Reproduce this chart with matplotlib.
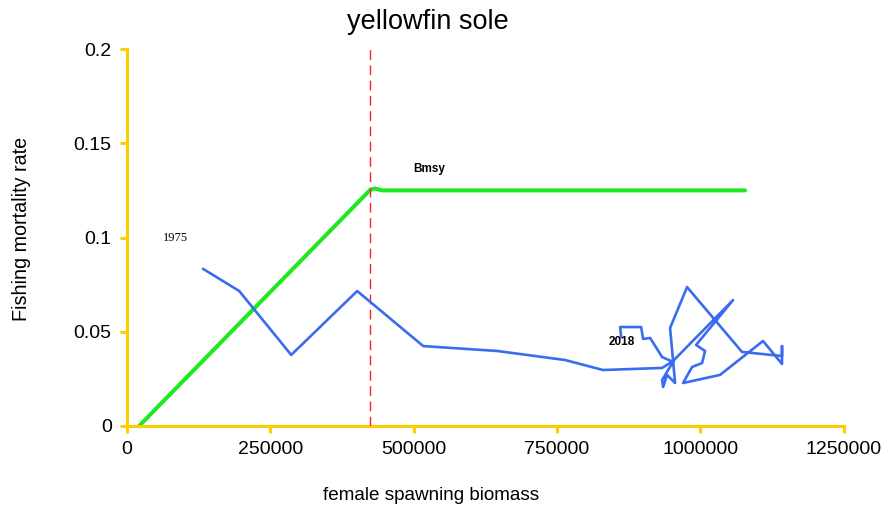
import matplotlib
matplotlib.use("Agg")
import matplotlib.pyplot as plt
from matplotlib.ticker import FixedLocator, FuncFormatter

plt.rcParams['font.family'] = ['Liberation Sans', 'DejaVu Sans']

# Data
ssb = [133000, 195800, 286400, 401500, 516600, 645600, 764100, 830400, 933300, 952400,
       1057000, 992500, 1008200, 1003000, 985500, 969800, 1034300, 1109300, 1142400, 1142400,
       1142400, 1072600, 976800, 947200, 955900, 942000, 935000, 933300, 952400, 933300,
       912400, 900200, 896700, 860100, 861800]
fmort = [0.0833, 0.0716, 0.0377, 0.0716, 0.0424, 0.0398, 0.0350, 0.0297, 0.0308, 0.0345,
         0.0668, 0.0430, 0.0398, 0.0334, 0.0313, 0.0228, 0.0271, 0.0451, 0.0329, 0.0424,
         0.0371, 0.0393, 0.0737, 0.0520, 0.0228, 0.0271, 0.0207, 0.0244, 0.0340, 0.0366,
         0.0467, 0.0462, 0.0525, 0.0525, 0.0472]
hcr_x = [21000, 424000, 432000, 445000, 1078000]
hcr_y = [0.0, 0.1252, 0.1260, 0.1250, 0.1250]
bmsy = 424000
x_ticks = [0, 250000, 500000, 750000, 1000000, 1250000]
y_ticks = [0, 0.05, 0.1, 0.15, 0.2]
y_tick_labels = ['0', '0.05', '0.1', '0.15', '0.2']

fig = plt.figure(figsize=(8.92, 5.12), dpi=100)
ax = fig.add_axes([127/892, 1-426/512, (843.7-127)/892, (426-49)/512])

ax.plot(hcr_x, hcr_y, color='#1ee81e', lw=2.9, solid_capstyle='round', zorder=2)
ax.plot([bmsy, bmsy], [0, 0.2], color='#ff2020', lw=1.0, dashes=(7, 4), zorder=3)
ax.plot(ssb, fmort, color='#3a6cf0', lw=1.9, zorder=4)

ax.text(84200, 0.0997, '1975', fontsize=9, family='Liberation Serif', ha='center', va='center')
ax.text(863500, 0.0446, '2018', fontsize=8.5, fontweight='bold', ha='center', va='center', zorder=5)
ax.text(527000, 0.1363, 'Bmsy', fontsize=8.5, fontweight='bold', ha='center', va='center')

ax.set_xlim(0, 1250000)
ax.set_ylim(0, 0.2)
ax.xaxis.set_major_locator(FixedLocator(x_ticks))
ax.xaxis.set_major_formatter(FuncFormatter(lambda v, p: f"{int(round(v))}"))
ax.set_yticks(y_ticks)
ax.set_yticklabels(y_tick_labels)

for s in ['top', 'right']:
    ax.spines[s].set_visible(False)
for s in ['left', 'bottom']:
    ax.spines[s].set_color('#ffcc00')
    ax.spines[s].set_linewidth(2.2)
    ax.spines[s].set_capstyle('projecting')
ax.tick_params(axis='both', colors='#ffcc00', width=2.2, length=5, labelcolor='black', labelsize=14)
ax.tick_params(axis='y', pad=6)
ax.tick_params(axis='x', pad=6)

fig.text(428/892, 1-22/512, 'yellowfin sole', fontsize=19.5, ha='center', va='center')
fig.text(431/892, 1-496/512, 'female spawning biomass', fontsize=13.6, ha='center', va='center')
fig.text(22/892, 1-229/512, 'Fishing mortality rate', fontsize=14.2, ha='center', va='center', rotation=90)

fig.savefig('out.png', dpi=100)
